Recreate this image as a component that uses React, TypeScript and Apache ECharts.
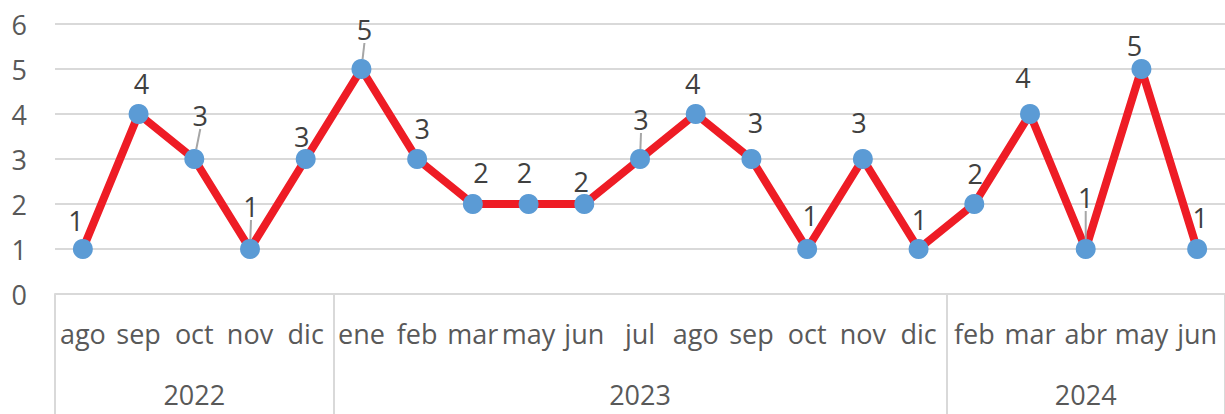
import React, { useEffect, useRef } from "react";
import * as echarts from "echarts";

const months = ["ago", "sep", "oct", "nov", "dic", "ene", "feb", "mar", "may", "jun", "jul", "ago", "sep", "oct", "nov", "dic", "feb", "mar", "abr", "may", "jun"];
const years = ["2022", "2023", "2024"];
const monthsPerYear = [5, 11, 5];
const values = [1, 4, 3, 1, 3, 5, 3, 2, 2, 2, 3, 4, 3, 1, 3, 1, 2, 4, 1, 5, 1];
const yTicks = [0, 1, 2, 3, 4, 5, 6];
// label nudges (styling only), and which labels show a leader line
const labelNudges = [[-7, 0], [3, -2], [6, -15], [1, -14], [-4, 6], [3, -11], [5, -2], [8, -3], [-4, -3], [-3, 6], [1, -11], [-3, -2], [4, -8], [3, -5], [-4, -8], [1, -1], [1, -2], [-7, -8], [0, -23], [-7, 5], [3, -3]];
const leaderLines = [2, 3, 5, 10, 18];

export default function App() {
  const ref = useRef<HTMLDivElement>(null);
  useEffect(() => {
    if (!ref.current) return;
    const chart = echarts.init(ref.current, null, { renderer: "svg" });
    const font = "'Open Sans', sans-serif";
    const boundaries: number[] = [0];
    const centers: number[] = [];
    const centerYear: Record<string, string> = {};
    let acc = 0;
    monthsPerYear.forEach((n, i) => {
      const c = acc + n / 2;
      centers.push(c);
      centerYear[String(c)] = years[i];
      acc += n;
      boundaries.push(acc);
    });
    const gray = "#D9D9D9";
    chart.setOption({
      animation: false,
      grid: { left: 55, right: -2, top: 24, bottom: 120, containLabel: false },
      xAxis: [
        {
          type: "category",
          data: months,
          boundaryGap: true,
          position: "bottom",
          axisLine: { show: true, onZero: false, lineStyle: { color: gray, width: 2 } },
          axisTick: { show: false },
          axisLabel: { interval: 0, color: "#595959", fontSize: 27, fontFamily: font, margin: 26 },
          splitLine: { show: false },
        },
        {
          type: "value",
          min: 0,
          max: months.length,
          position: "bottom",
          axisLine: { show: false, onZero: false },
          axisTick: { show: true, customValues: boundaries, length: 120, lineStyle: { color: gray, width: 2 } },
          axisLabel: {
            customValues: centers,
            color: "#595959",
            fontSize: 27,
            fontFamily: font,
            margin: 87,
            formatter: (v: number) => centerYear[String(v)] || "",
          },
          splitLine: { show: false },
        },
      ],
      yAxis: {
        type: "value",
        min: yTicks[0],
        max: yTicks[yTicks.length - 1],
        interval: 1,
        axisLine: { show: false },
        axisTick: { show: false },
        axisLabel: { color: "#595959", fontSize: 27, fontFamily: font, margin: 28 },
        splitLine: { lineStyle: { color: gray, width: 2 } },
      },
      series: [
        {
          type: "line",
          xAxisIndex: 0,
          data: values.map((v, i) => ({
            value: v,
            labelLine: { show: leaderLines.includes(i) },
          })),
          symbol: "circle",
          symbolSize: 20,
          itemStyle: { color: "#5B9BD5" },
          lineStyle: { color: "#EE1C25", width: 8 },
          z: 3,
          label: {
            show: true,
            position: "top",
            distance: 5,
            color: "#404040",
            fontSize: 27,
            fontFamily: font,
          },
          labelLine: { show: false, lineStyle: { color: "#A6A6A6", width: 2 } },
          labelLayout: (p: any) => ({ dx: labelNudges[p.dataIndex][0], dy: labelNudges[p.dataIndex][1] }),
        },
      ],
    });
    return () => chart.dispose();
  }, []);
  return <div ref={ref} style={{ position: "absolute", left: 0, top: 0, width: 1225, height: 414 }} />;
}
